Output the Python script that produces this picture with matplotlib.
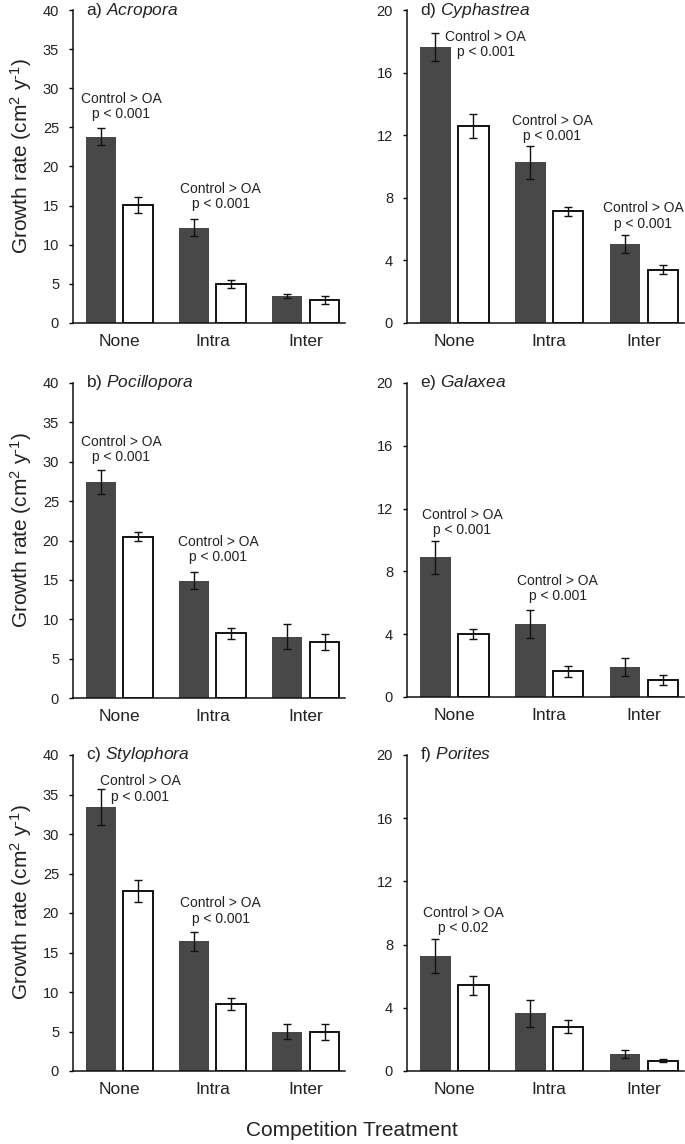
import matplotlib
matplotlib.use("Agg")
import matplotlib.pyplot as plt
import numpy as np

plt.rcParams['font.family'] = ['Liberation Sans', 'DejaVu Sans']
plt.rcParams['mathtext.fontset'] = 'custom'
plt.rcParams['mathtext.rm'] = 'Liberation Sans'
plt.rcParams['mathtext.it'] = 'Liberation Sans:italic'
plt.rcParams['mathtext.default'] = 'rm'

categories = ["None", "Intra", "Inter"]
panel_labels = ["a)", "b)", "c)", "d)", "e)", "f)"]
species = ["Acropora", "Pocillopora", "Stylophora", "Cyphastrea", "Galaxea", "Porites"]

control_means = {
    "Acropora":    [23.8, 12.2, 3.45],
    "Pocillopora": [27.4, 14.9, 7.8],
    "Stylophora":  [33.4, 16.4, 5.0],
    "Cyphastrea":  [17.65, 10.28, 5.04],
    "Galaxea":     [8.9, 4.67, 1.89],
    "Porites":     [7.3, 3.64, 1.1],
}
control_err = {
    "Acropora":    [1.1, 1.05, 0.3],
    "Pocillopora": [1.5, 1.1, 1.6],
    "Stylophora":  [2.3, 1.2, 0.9],
    "Cyphastrea":  [0.9, 1.05, 0.57],
    "Galaxea":     [1.05, 0.9, 0.57],
    "Porites":     [1.08, 0.85, 0.25],
}
oa_means = {
    "Acropora":    [15.1, 4.98, 2.9],
    "Pocillopora": [20.5, 8.2, 7.1],
    "Stylophora":  [22.8, 8.5, 4.9],
    "Cyphastrea":  [12.6, 7.13, 3.4],
    "Galaxea":     [4.01, 1.63, 1.06],
    "Porites":     [5.42, 2.8, 0.66],
}
oa_err = {
    "Acropora":    [1.0, 0.5, 0.5],
    "Pocillopora": [0.6, 0.7, 1.0],
    "Stylophora":  [1.4, 0.8, 1.0],
    "Cyphastrea":  [0.75, 0.3, 0.3],
    "Galaxea":     [0.3, 0.37, 0.32],
    "Porites":     [0.62, 0.4, 0.08],
}
y_max = {"Acropora": 40, "Pocillopora": 40, "Stylophora": 40,
         "Cyphastrea": 20, "Galaxea": 20, "Porites": 20}
y_step = {"Acropora": 5, "Pocillopora": 5, "Stylophora": 5,
          "Cyphastrea": 4, "Galaxea": 4, "Porites": 4}

# annotations: (species, text, x, y)
annotations = [
    ("Acropora", "Control > OA\np < 0.001", 0.02, 27.7),
    ("Acropora", "Control > OA\np < 0.001", 1.085, 16.2),
    ("Pocillopora", "Control > OA\np < 0.001", 0.02, 31.6),
    ("Pocillopora", "Control > OA\np < 0.001", 1.06, 18.8),
    ("Stylophora", "Control > OA\np < 0.001", 0.22, 35.7),
    ("Stylophora", "Control > OA\np < 0.001", 1.085, 20.25),
    ("Cyphastrea", "Control > OA\np < 0.001", 0.33, 17.8),
    ("Cyphastrea", "Control > OA\np < 0.001", 1.03, 12.4),
    ("Cyphastrea", "Control > OA\np < 0.001", 1.99, 6.84),
    ("Galaxea", "Control > OA\np < 0.001", 0.08, 11.1),
    ("Galaxea", "Control > OA\np < 0.001", 1.09, 6.9),
    ("Porites", "Control > OA\np < 0.02", 0.09, 9.5),
]

W, H = 685, 1144
fig = plt.figure(figsize=(W / 100, H / 100), dpi=100)

# pixel boxes: (left, top, right, bottom)
boxes = {
    "Acropora":    (73, 10, 345, 323),
    "Pocillopora": (73, 383, 345, 698),
    "Stylophora":  (73, 755, 345, 1071),
    "Cyphastrea":  (407, 10, 684, 323),
    "Galaxea":     (407, 383, 684, 697),
    "Porites":     (407, 755, 684, 1071),
}

dark = '#484848'
txt = '#222222'
x = np.arange(len(categories))
bw = 0.32
off = 0.2

for i, sp in enumerate(species):
    l, t, r, b = boxes[sp]
    ax = fig.add_axes([l / W, 1 - b / H, (r - l) / W, (b - t) / H])
    ax.bar(x - off, control_means[sp], bw, color=dark, edgecolor='none',
           yerr=control_err[sp], capsize=3.2,
           error_kw=dict(elinewidth=1.0, capthick=1.0, ecolor='#111111'))
    ax.bar(x + off, oa_means[sp], bw, color='white', edgecolor='black', linewidth=1.3,
           yerr=oa_err[sp], capsize=3.2,
           error_kw=dict(elinewidth=1.0, capthick=1.0, ecolor='#111111'))
    ax.set_xlim(-0.5, 2.42)
    ax.set_ylim(0, y_max[sp])
    ax.set_yticks(np.arange(0, y_max[sp] + 0.1, y_step[sp]))
    ax.set_xticks(x)
    ax.set_xticklabels(categories, fontsize=12.5, color=txt)
    ax.tick_params(axis='x', length=0, pad=8)
    ax.tick_params(axis='y', direction='out', length=3, width=1.0, pad=7,
                   labelsize=10.5, labelcolor=txt)
    for s in ['top', 'right']:
        ax.spines[s].set_visible(False)
    for s in ['left', 'bottom']:
        ax.spines[s].set_linewidth(1.1)
        ax.spines[s].set_color('#111111')
    ax.text(0.048, 1.0, panel_labels[i] + r' $\mathit{' + sp + '}$', transform=ax.transAxes,
            fontsize=12.5, va='center', ha='left', color=txt)
    if i < 3:
        ax.set_ylabel(r'Growth rate (cm$^{2}$ y$^{\text{-}1}$)', fontsize=15, color=txt)
        ax.yaxis.set_label_coords(-0.145, 0.535)
    for (asp, label, ax_x, ax_y) in annotations:
        if asp == sp:
            ax.text(ax_x, ax_y, label, ha='center', va='center', fontsize=10,
                    linespacing=1.1, color=txt)

fig.text(352 / W, 1 - 1130 / H, 'Competition Treatment', ha='center', va='center',
         fontsize=15, color=txt)

fig.savefig('out.png', dpi=100)
